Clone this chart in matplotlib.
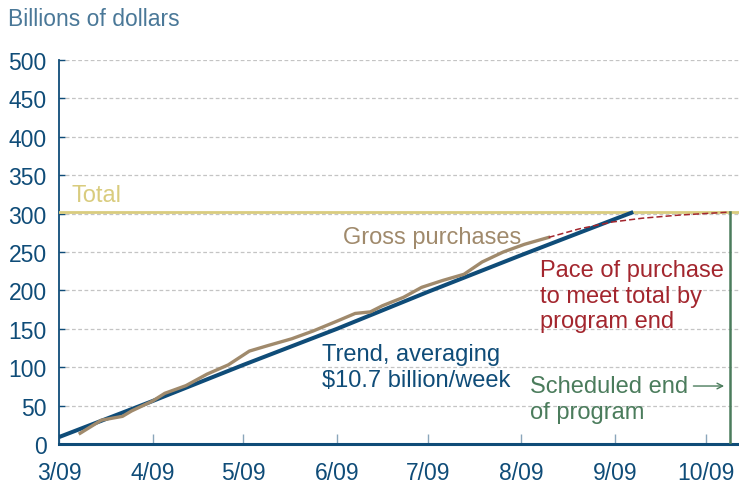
import numpy as np
import matplotlib
matplotlib.use("Agg")
import matplotlib.pyplot as plt

plt.rcParams['font.family'] = ['Liberation Sans', 'DejaVu Sans']

# trend line, averaging $10.7 billion/week
trend_dates = ["2009-03-01", "2009-04-01", "2009-05-01", "2009-06-01",
               "2009-07-01", "2009-08-01", "2009-09-01", "2009-09-07"]
trend_vals = [9, 56, 103, 150, 198, 246, 293, 302]

# gross purchases
gross_dates = ["2009-03-08", "2009-03-15", "2009-03-22", "2009-03-25", "2009-04-01",
               "2009-04-05", "2009-04-12", "2009-04-19", "2009-04-26", "2009-05-03",
               "2009-05-09", "2009-05-17", "2009-05-24", "2009-06-01", "2009-06-07",
               "2009-06-12", "2009-06-16", "2009-06-23", "2009-06-29", "2009-07-06",
               "2009-07-13", "2009-07-19", "2009-07-26", "2009-08-02", "2009-08-10"]
gross_vals = [14, 31, 36, 43, 56, 66, 76, 91, 103, 121, 128, 137, 147, 160, 170,
              172, 180, 191, 204, 213, 221, 237, 250, 260, 269]

# pace needed to reach the total by program end
pace_dates = ["2009-08-10", "2009-08-20", "2009-08-31", "2009-09-10", "2009-09-22", "2009-10-09"]
pace_vals = [269, 280, 289, 294, 298, 302]

total = 302
end_date = "2009-10-09"
month_ticks = ["2009-03-01", "2009-04-01", "2009-05-01", "2009-06-01",
               "2009-07-01", "2009-08-01", "2009-09-01", "2009-10-01"]
month_labels = ["3/09", "4/09", "5/09", "6/09", "7/09", "8/09", "9/09", "10/09"]

d = lambda s: np.array(s, dtype="datetime64[D]")

dark_blue = "#0f4c78"
brown = "#a08a6c"
red = "#a3262e"
khaki = "#d9cc7e"
green = "#4b7c5c"

fig = plt.figure(figsize=(7.39, 4.89), dpi=100)
ax = fig.add_axes([59/739, 44/489, 680/739, 384/489])

ax.plot(d(trend_dates), trend_vals, color=dark_blue, lw=2.9, solid_capstyle="butt", zorder=4)
ax.plot(d(gross_dates), gross_vals, color=brown, lw=2.4, zorder=5)
ax.plot(d(pace_dates), pace_vals, color=red, lw=1.1, ls=(0, (4, 2)), zorder=5)
ax.axhline(total, color=khaki, lw=2, zorder=3)
ax.plot([d(end_date), d(end_date)], [0, total], color=green, lw=1.8, zorder=6)

ax.set_xlim(d("2009-03-01"), d("2009-10-12"))
ax.set_ylim(0, 500)
ax.set_yticks(range(0, 501, 50))
ax.set_xticks(d(month_ticks))
ax.set_xticklabels(month_labels)

for y in range(50, 501, 50):
    ax.axhline(y, color="#c4c4c4", lw=0.9, ls=(0, (3, 2)), zorder=1)

for s in ["top", "right"]:
    ax.spines[s].set_visible(False)
ax.spines["left"].set_color(dark_blue)
ax.spines["left"].set_linewidth(1.3)
ax.spines["bottom"].set_color(dark_blue)
ax.spines["bottom"].set_linewidth(2.2)
ax.tick_params(axis="y", direction="in", length=4, width=1, color=dark_blue,
               labelsize=16.5, labelcolor=dark_blue, pad=9)
ax.tick_params(axis="x", direction="in", length=7, width=1, color="#8aa6bb",
               labelsize=16.5, labelcolor=dark_blue, pad=12)

fig.text(8/739, 1 - 20/489, "Billions of dollars", color="#4a7898", fontsize=16.5, va="center")

ax.text(d("2009-03-05"), 324, "Total", color=khaki, fontsize=17, va="center")
ax.text(d("2009-06-03"), 270, "Gross purchases", color=brown, fontsize=17, va="center")
ax.text(d("2009-08-07"), 193, "Pace of purchase\nto meet total by\nprogram end",
        color=red, fontsize=17, va="center", linespacing=1.2)
ax.text(d("2009-05-27"), 100, "Trend, averaging\n$10.7 billion/week",
        color=dark_blue, fontsize=17, va="center", linespacing=1.2)
ax.text(d("2009-08-04"), 58.5, "Scheduled end\nof program",
        color=green, fontsize=17, va="center", linespacing=1.2)
ax.annotate("", xy=(d("2009-10-08"), 75.5), xytext=(d("2009-09-26"), 75.5),
            arrowprops=dict(arrowstyle="->", color=green, lw=1))

fig.savefig("out.png", dpi=100)
